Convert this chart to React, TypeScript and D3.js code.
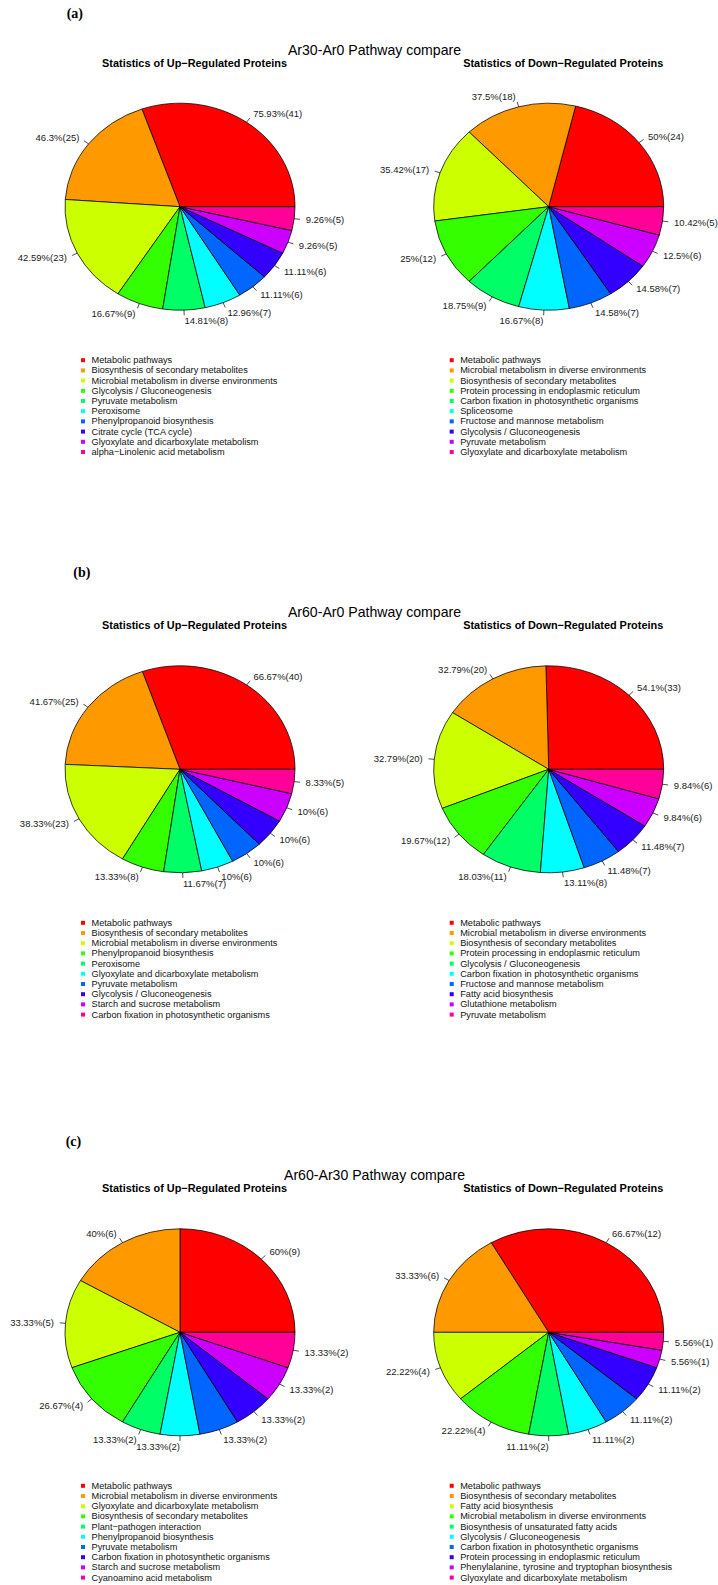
import React from "react";
import * as d3 from "d3";

// R rainbow(10) palette used for the pathway slices
const sliceColors = [
  "#FF0000", "#FF9900", "#CCFF00", "#33FF00", "#00FF66",
  "#00FFFF", "#0066FF", "#3300FF", "#CC00FF", "#FF0099",
];

// ---- Ar30-Ar0 ----
const aUpPathways = [
  "Metabolic pathways",
  "Biosynthesis of secondary metabolites",
  "Microbial metabolism in diverse environments",
  "Glycolysis / Gluconeogenesis",
  "Pyruvate metabolism",
  "Peroxisome",
  "Phenylpropanoid biosynthesis",
  "Citrate cycle (TCA cycle)",
  "Glyoxylate and dicarboxylate metabolism",
  "alpha\u2212Linolenic acid metabolism",
];
const aUpCounts = [41, 25, 23, 9, 8, 7, 6, 6, 5, 5];
const aUpTotal = 54;

const aDownPathways = [
  "Metabolic pathways",
  "Microbial metabolism in diverse environments",
  "Biosynthesis of secondary metabolites",
  "Protein processing in endoplasmic reticulum",
  "Carbon fixation in photosynthetic organisms",
  "Spliceosome",
  "Fructose and mannose metabolism",
  "Glycolysis / Gluconeogenesis",
  "Pyruvate metabolism",
  "Glyoxylate and dicarboxylate metabolism",
];
const aDownCounts = [24, 18, 17, 12, 9, 8, 7, 7, 6, 5];
const aDownTotal = 48;

// ---- Ar60-Ar0 ----
const bUpPathways = [
  "Metabolic pathways",
  "Biosynthesis of secondary metabolites",
  "Microbial metabolism in diverse environments",
  "Phenylpropanoid biosynthesis",
  "Peroxisome",
  "Glyoxylate and dicarboxylate metabolism",
  "Pyruvate metabolism",
  "Glycolysis / Gluconeogenesis",
  "Starch and sucrose metabolism",
  "Carbon fixation in photosynthetic organisms",
];
const bUpCounts = [40, 25, 23, 8, 7, 6, 6, 6, 6, 5];
const bUpTotal = 60;

const bDownPathways = [
  "Metabolic pathways",
  "Microbial metabolism in diverse environments",
  "Biosynthesis of secondary metabolites",
  "Protein processing in endoplasmic reticulum",
  "Glycolysis / Gluconeogenesis",
  "Carbon fixation in photosynthetic organisms",
  "Fructose and mannose metabolism",
  "Fatty acid biosynthesis",
  "Glutathione metabolism",
  "Pyruvate metabolism",
];
const bDownCounts = [33, 20, 20, 12, 11, 8, 7, 7, 6, 6];
const bDownTotal = 61;

// ---- Ar60-Ar30 ----
const cUpPathways = [
  "Metabolic pathways",
  "Microbial metabolism in diverse environments",
  "Glyoxylate and dicarboxylate metabolism",
  "Biosynthesis of secondary metabolites",
  "Plant\u2212pathogen interaction",
  "Phenylpropanoid biosynthesis",
  "Pyruvate metabolism",
  "Carbon fixation in photosynthetic organisms",
  "Starch and sucrose metabolism",
  "Cyanoamino acid metabolism",
];
const cUpCounts = [9, 6, 5, 4, 2, 2, 2, 2, 2, 2];
const cUpTotal = 15;

const cDownPathways = [
  "Metabolic pathways",
  "Biosynthesis of secondary metabolites",
  "Fatty acid biosynthesis",
  "Microbial metabolism in diverse environments",
  "Biosynthesis of unsaturated fatty acids",
  "Glycolysis / Gluconeogenesis",
  "Carbon fixation in photosynthetic organisms",
  "Protein processing in endoplasmic reticulum",
  "Phenylalanine, tyrosine and tryptophan biosynthesis",
  "Glyoxylate and dicarboxylate metabolism",
];
const cDownCounts = [12, 6, 4, 4, 2, 2, 2, 2, 1, 1];
const cDownTotal = 18;

const panelTags = ["(a)", "(b)", "(c)"];
const panelTitles = [
  "Ar30-Ar0 Pathway compare",
  "Ar60-Ar0 Pathway compare",
  "Ar60-Ar30 Pathway compare",
];
const upTitle = "Statistics of Up\u2212Regulated Proteins";
const downTitle = "Statistics of Down\u2212Regulated Proteins";

type PieSpec = { names: string[]; counts: number[]; total: number; title: string };

const panels: { tag: string; title: string; up: PieSpec; down: PieSpec }[] = [
  {
    tag: panelTags[0], title: panelTitles[0],
    up: { names: aUpPathways, counts: aUpCounts, total: aUpTotal, title: upTitle },
    down: { names: aDownPathways, counts: aDownCounts, total: aDownTotal, title: downTitle },
  },
  {
    tag: panelTags[1], title: panelTitles[1],
    up: { names: bUpPathways, counts: bUpCounts, total: bUpTotal, title: upTitle },
    down: { names: bDownPathways, counts: bDownCounts, total: bDownTotal, title: downTitle },
  },
  {
    tag: panelTags[2], title: panelTitles[2],
    up: { names: cUpPathways, counts: cUpCounts, total: cUpTotal, title: upTitle },
    down: { names: cDownPathways, counts: cDownCounts, total: cDownTotal, title: downTitle },
  },
];

// layout
const W = 718;
const H = 1585;
const panelCY = [206.7, 769.3, 1332.3];
const tagPos = [
  { x: 66.7, dy: -193.4 },
  { x: 73.3, dy: -196.6 },
  { x: 65.7, dy: -191.3 },
];
const pieCX = [180, 548.7];
const RX = 115;
const RY = 103.5;
const SANS = "'Liberation Sans', Arial, Helvetica, sans-serif";

const fmtPct = (count: number, total: number) =>
  `${+(Math.round((count / total) * 10000) / 100).toFixed(2)}%(${count})`;

function Pie({ spec, cx, cy }: { spec: PieSpec; cx: number; cy: number }) {
  // counter-clockwise from 3 o'clock, like R's pie()
  const pieGen = d3
    .pie<number>()
    .sort(null)
    .startAngle(Math.PI / 2)
    .endAngle(Math.PI / 2 - 2 * Math.PI);
  const arcs = pieGen(spec.counts);
  const arcGen = d3.arc<d3.PieArcDatum<number>>().innerRadius(0).outerRadius(RY);
  const sx = RX / RY;
  return (
    <g>
      <g transform={`translate(${cx},${cy}) scale(${sx},1)`}>
        {arcs.map((a, i) => (
          <path
            key={i}
            d={arcGen(a) || ""}
            fill={sliceColors[i]}
            stroke="#000"
            strokeWidth={0.75}
            vectorEffect="non-scaling-stroke"
          />
        ))}
      </g>
      {arcs.map((a, i) => {
        const mid = (a.startAngle + a.endAngle) / 2;
        const ux = Math.sin(mid);
        const uy = -Math.cos(mid);
        return (
          <g key={`l${i}`}>
            <line
              x1={cx + RX * ux}
              y1={cy + RY * uy}
              x2={cx + 1.05 * RX * ux}
              y2={cy + 1.05 * RY * uy}
              stroke="#000"
              strokeWidth={0.7}
            />
            <text
              x={cx + 1.1 * RX * ux}
              y={cy + 1.1 * RY * uy}
              textAnchor={ux < 0 ? "end" : "start"}
              dominantBaseline="central"
              fontFamily={SANS}
              fontSize={9.5}
              fill="#1a1a1a"
            >
              {fmtPct(spec.counts[i], spec.total)}
            </text>
          </g>
        );
      })}
      <text
        x={cx + 14.5}
        y={cy - 144}
        textAnchor="middle"
        dominantBaseline="central"
        fontFamily={SANS}
        fontWeight="bold"
        fontSize={10.9}
        fill="#000"
      >
        {spec.title}
      </text>
      {spec.names.map((name, i) => {
        const y = cy + 153.5 + i * 10.2;
        const sqx = cx - 97;
        return (
          <g key={`k${i}`}>
            <rect x={sqx - 2} y={y - 2} width={4} height={4} fill={sliceColors[i]} />
            <text
              x={sqx + 8.5}
              y={y}
              dominantBaseline="central"
              fontFamily={SANS}
              fontSize={9.2}
              fill="#111"
            >
              {name}
            </text>
          </g>
        );
      })}
    </g>
  );
}

export default function App() {
  return (
    <svg
      width={W}
      height={H}
      viewBox={`0 0 ${W} ${H}`}
      style={{ position: "absolute", left: 0, top: 0, background: "#fff" }}
    >
      <rect width={W} height={H} fill="#fff" />
      {panels.map((p, k) => {
        const cy = panelCY[k];
        return (
          <g key={k}>
            <text
              x={tagPos[k].x}
              y={cy + tagPos[k].dy}
              dominantBaseline="central"
              fontFamily="'Liberation Serif', 'Times New Roman', serif"
              fontWeight="bold"
              fontSize={14}
              fill="#000"
            >
              {p.tag}
            </text>
            <text
              x={374.5}
              y={cy - 157}
              textAnchor="middle"
              dominantBaseline="central"
              fontFamily={SANS}
              fontSize={14.1}
              fill="#000"
            >
              {p.title}
            </text>
            <Pie spec={p.up} cx={pieCX[0]} cy={cy} />
            <Pie spec={p.down} cx={pieCX[1]} cy={cy} />
          </g>
        );
      })}
    </svg>
  );
}
